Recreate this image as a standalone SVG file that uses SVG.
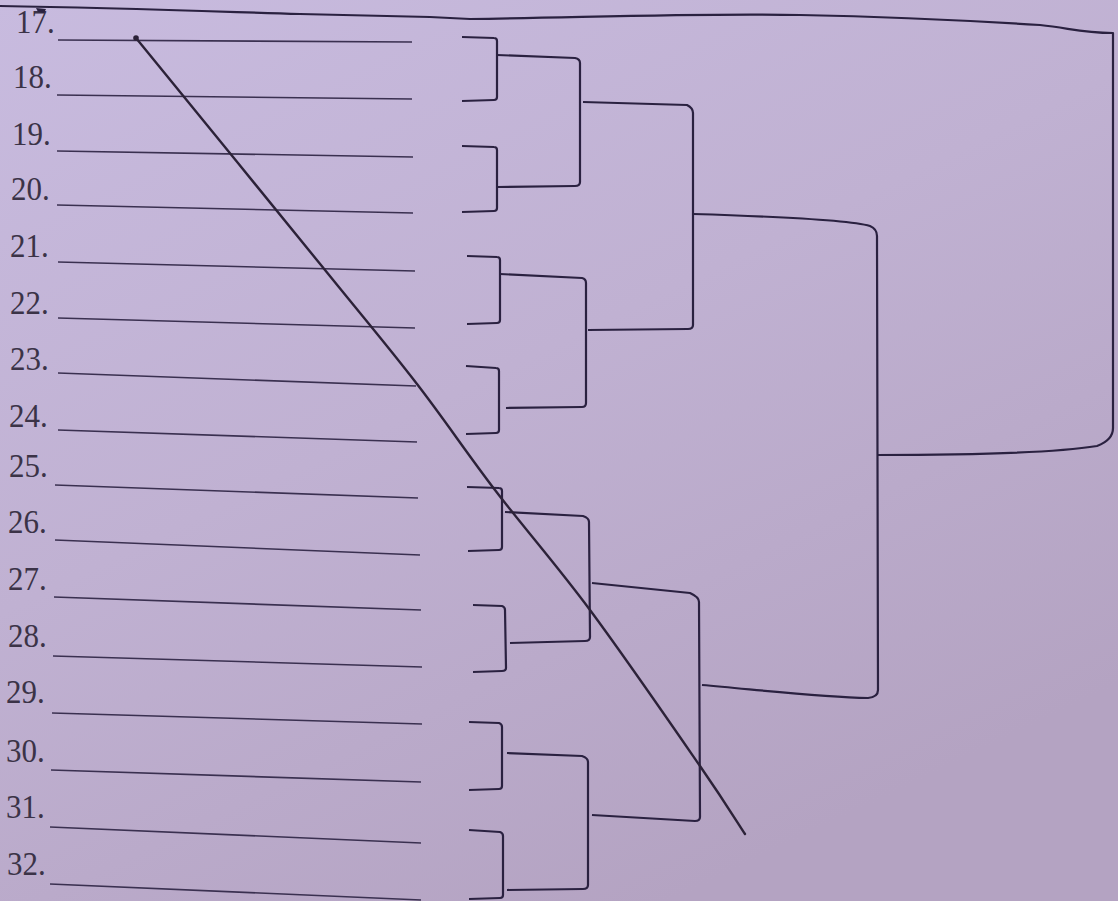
<svg xmlns="http://www.w3.org/2000/svg" width="1118" height="901" viewBox="0 0 1118 901">
<defs>
<linearGradient id="bg" x1="0" y1="0" x2="0.6" y2="1">
<stop offset="0" stop-color="#c8bbdf"/>
<stop offset="0.5" stop-color="#c0b1d2"/>
<stop offset="1" stop-color="#b4a3c2"/>
</linearGradient>
<style>
.num{font-family:"Liberation Serif","Times New Roman",serif;font-size:31px;fill:#3b3347}
.ans{fill:none;stroke:#3a3050;stroke-width:1.6}
.br{fill:none;stroke:#2a2140;stroke-width:2.2;stroke-linejoin:round}
.pen{fill:none;stroke:#2c2238;stroke-width:2.4;stroke-linecap:round;stroke-linejoin:round}
</style>
</defs>
<rect width="1118" height="901" fill="url(#bg)"/>
<g id="entries">
<g id="e17"><text class="num" transform="translate(16,33) scale(1,1.12)">17.</text><path class="ans" d="M58,40 L412,42"/></g>
<g id="e18"><text class="num" transform="translate(13,88) scale(1,1.12)">18.</text><path class="ans" d="M57,95 L412,99"/></g>
<g id="e19"><text class="num" transform="translate(12,145) scale(1,1.12)">19.</text><path class="ans" d="M57,151 L413,157"/></g>
<g id="e20"><text class="num" transform="translate(11,200) scale(1,1.12)">20.</text><path class="ans" d="M57,205 L413,213"/></g>
<g id="e21"><text class="num" transform="translate(10,257) scale(1,1.12)">21.</text><path class="ans" d="M58,262 L415,271"/></g>
<g id="e22"><text class="num" transform="translate(10,314) scale(1,1.12)">22.</text><path class="ans" d="M58,318 L415,328"/></g>
<g id="e23"><text class="num" transform="translate(10,370) scale(1,1.12)">23.</text><path class="ans" d="M58,373 L416,386"/></g>
<g id="e24"><text class="num" transform="translate(9,427) scale(1,1.12)">24.</text><path class="ans" d="M58,430 L417,442"/></g>
<g id="e25"><text class="num" transform="translate(9,477) scale(1,1.12)">25.</text><path class="ans" d="M55,485 L418,498"/></g>
<g id="e26"><text class="num" transform="translate(8,533) scale(1,1.12)">26.</text><path class="ans" d="M55,540 L420,555"/></g>
<g id="e27"><text class="num" transform="translate(8,590) scale(1,1.12)">27.</text><path class="ans" d="M54,597 L421,610"/></g>
<g id="e28"><text class="num" transform="translate(8,647) scale(1,1.12)">28.</text><path class="ans" d="M53,656 L422,667"/></g>
<g id="e29"><text class="num" transform="translate(6,703) scale(1,1.12)">29.</text><path class="ans" d="M52,713 L422,724"/></g>
<g id="e30"><text class="num" transform="translate(6,762) scale(1,1.12)">30.</text><path class="ans" d="M51,770 L421,782"/></g>
<g id="e31"><text class="num" transform="translate(6,818) scale(1,1.12)">31.</text><path class="ans" d="M50,827 L421,843"/></g>
<g id="e32"><text class="num" transform="translate(7,875) scale(1,1.12)">32.</text><path class="ans" d="M50,884 L421,900"/></g>
</g>
<g id="connectors">
<path class="br" d="M462,37 L494,38 Q497,38 497,41 L497,97 Q497,100 494,100 L462,101"/>
<path class="br" d="M462,146 L494,147 Q497,147 497,150 L497,208 Q497,211 494,211 L462,212"/>
<path class="br" d="M467,256 L497,257 Q500,257 500,260 L500,320 Q500,323 497,323 L467,324"/>
<path class="br" d="M466,366 L496,368 Q499,368 499,371 L499,430 Q499,433 496,433 L466,434"/>
<path class="br" d="M467,487 L499,488 Q502,488 502,491 L502,547 Q502,550 499,550 L468,551"/>
<path class="br" d="M473,605 L502,606 Q505,607 505,610 L506,668 Q506,671 502,671 L473,672"/>
<path class="br" d="M469,722 L499,723 Q502,724 502,727 L502,786 Q502,789 499,789 L469,790"/>
<path class="br" d="M469,830 L500,832 Q503,833 503,836 L503,895 Q503,898 500,898 L469,899"/>
<path class="br" d="M497,55 L575,58 Q580,59 580,63 L580,182 Q580,186 575,186 L498,187"/>
<path class="br" d="M500,274 L582,278 Q586,279 586,283 L586,403 Q586,407 582,407 L506,408"/>
<path class="br" d="M505,512 L583,516 Q589,518 589,522 L590,637 Q590,641 585,641 L510,643"/>
<path class="br" d="M507,753 L582,756 Q588,758 588,762 L588,885 Q588,889 583,889 L507,890"/>
<path class="br" d="M583,102 L687,105 Q693,108 693,113 L693,325 Q693,329 688,329 L588,330"/>
<path class="br" d="M592,583 L690,593 Q699,597 699,602 L700,817 Q700,821 695,821 L592,815"/>
<path class="br" d="M693,214 C760,216 850,220 870,226 Q877,229 877,236 L878,690 Q878,697 868,698 C820,697 760,690 702,685"/>
<path class="br" d="M0,6 C120,8 200,11 300,14 L430,17 L470,19 C600,17 700,13 800,15 C900,17 960,20 1040,25 C1070,28 1080,33 1113,33 L1113,428 Q1113,440 1097,446 C1060,452 1000,455 877,455"/>
<path d="M36,8 L46,9 L44,13 L38,12 Z" fill="#2a2140"/>
</g>
<g id="pen-stroke">
<path class="pen" d="M136,38 C167.5,76.7 278.2,212.3 325,270 C371.8,327.7 388.7,347.3 417,384 C445.3,420.7 466.2,452.3 495,490 C523.8,527.7 555.8,564 590,610 C624.2,656 674.2,728.7 700,766 C725.8,803.3 737.5,822.7 745,834"/>
<circle cx="136" cy="38" r="2.8" fill="#2c2238"/>
</g>
</svg>
